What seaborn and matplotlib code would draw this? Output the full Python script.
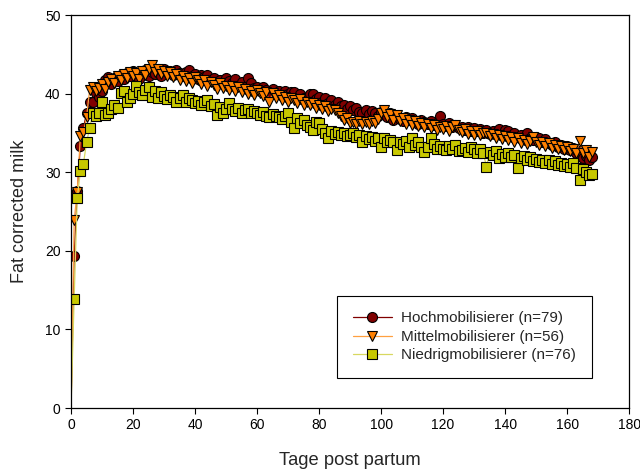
import matplotlib
matplotlib.use("Agg")
import matplotlib.pyplot as plt
import seaborn as sns
import numpy as np

days = list(range(0, 169))

hoch = [0.0,
    19.3, 27.6, 33.4, 35.6, 37.6, 38.9, 38.9, 40.1, 39.6, 40.3,
    41.8, 42.1, 41.2, 42.0, 41.6, 42.4, 41.9, 42.6, 42.2, 42.9,
    42.4, 41.9, 42.7, 43.0, 42.3, 42.8, 42.5, 43.1, 42.2, 43.2,
    42.7, 42.9, 42.4, 43.0, 42.6, 42.2, 42.8, 43.0, 42.3, 42.5,
    41.9, 42.4, 42.1, 42.4, 41.6, 42.0, 41.4, 41.8, 41.2, 42.0,
    41.6, 41.3, 41.9, 41.0, 41.5, 40.8, 42.0, 41.3, 40.7, 40.9,
    40.4, 40.8, 40.5, 40.1, 40.6, 40.0, 40.4, 39.8, 40.3, 39.9,
    40.2, 40.2, 39.5, 39.9, 39.4, 39.6, 39.9, 40.0, 39.3, 39.6,
    39.0, 39.4, 38.8, 39.2, 38.6, 38.9, 38.4, 38.5, 38.1, 38.4,
    37.9, 38.2, 37.7, 37.6, 37.9, 37.4, 37.8, 37.5, 37.2, 37.7,
    37.4, 37.0, 37.5, 36.6, 37.1, 36.8, 36.5, 37.0, 36.6, 36.9,
    36.4, 36.2, 36.6, 36.4, 36.1, 36.5, 36.0, 36.3, 37.1, 36.2,
    35.9, 36.3, 35.7, 36.0, 35.6, 35.8, 35.4, 35.7, 35.3, 35.6,
    35.2, 35.5, 35.0, 35.4, 34.9, 35.3, 35.0, 35.5, 34.7, 35.4,
    35.2, 34.6, 35.0, 34.5, 34.8, 34.3, 35.0, 34.4, 34.1, 34.5,
    34.3, 33.9, 34.2, 33.7, 33.5, 33.9, 33.2, 33.5, 33.0, 33.3,
    32.8, 33.1, 32.5, 32.7, 31.8, 32.1, 31.6, 31.9]

mittel = [0.0,
    23.9, 27.5, 34.6, 35.1, 37.0, 40.5, 40.9, 40.3, 40.7, 41.2,
    40.6, 41.5, 41.9, 41.3, 42.2, 41.7, 42.5, 42.0, 42.8, 42.3,
    42.6, 41.9, 42.9, 42.4, 43.1, 43.6, 42.7, 43.2, 42.5, 42.9,
    42.3, 42.7, 42.1, 42.5, 41.8, 42.2, 41.6, 42.0, 41.4, 42.1,
    41.7, 41.2, 41.8, 41.0, 41.5, 41.1, 40.6, 41.3, 40.7, 41.0,
    40.5, 41.0, 40.3, 40.8, 40.2, 40.6, 40.0, 40.4, 39.8, 40.5,
    40.1, 39.7, 40.2, 38.9, 40.1, 39.5, 39.8, 39.2, 39.6, 39.0,
    39.4, 39.2, 38.8, 39.3, 38.6, 38.9, 38.5, 38.8, 38.2, 38.6,
    38.0, 38.4, 37.8, 38.1, 37.9, 37.5, 37.2, 36.6, 36.9, 36.3,
    36.4, 36.2, 36.5, 36.2, 36.4, 36.2, 36.5, 36.3, 36.8, 37.6,
    37.9, 37.0, 37.4, 36.7, 37.3, 36.5, 36.9, 36.2, 36.6, 36.0,
    36.5, 35.9, 36.3, 35.7, 36.1, 35.6, 36.0, 35.4, 35.8, 35.5,
    35.9, 35.3, 35.7, 36.0, 35.4, 35.1, 35.5, 34.9, 35.3, 34.8,
    35.2, 34.7, 35.0, 35.0, 34.6, 34.9, 34.4, 34.8, 34.2, 34.6,
    34.1, 34.5, 33.9, 34.3, 33.7, 34.1, 33.6, 34.0, 34.5, 33.8,
    33.5, 33.9, 33.3, 33.7, 33.1, 33.5, 33.0, 33.4, 32.8, 33.2,
    32.7, 33.0, 32.5, 34.0, 32.4, 32.8, 32.0, 32.6]

niedrig = [0.0,
    13.9, 26.7, 30.1, 31.1, 33.8, 35.6, 37.6, 37.2, 37.5, 38.9,
    37.3, 37.5, 38.0, 38.5, 38.2, 40.1, 40.4, 39.0, 39.4, 40.0,
    41.0, 40.2, 39.8, 40.5, 40.8, 39.6, 40.3, 39.5, 40.2, 39.7,
    39.3, 39.8, 39.6, 39.0, 39.4, 39.8, 38.9, 39.5, 39.2, 38.8,
    39.1, 38.6, 38.9, 39.2, 38.4, 38.7, 37.3, 38.3, 37.6, 38.0,
    38.8, 38.1, 37.8, 38.2, 37.6, 37.9, 38.1, 37.5, 37.8, 37.6,
    37.3, 37.7, 37.2, 37.0, 37.4, 37.1, 37.0, 36.8, 37.2, 37.5,
    36.4, 35.6, 36.9, 36.3, 36.6, 36.0, 35.8, 35.4, 36.4, 36.3,
    35.5, 35.0, 34.4, 35.2, 34.9, 35.1, 34.7, 35.0, 34.6, 34.8,
    35.0, 34.5, 34.8, 33.8, 34.6, 34.2, 34.5, 34.0, 34.4, 33.2,
    34.3, 33.8, 34.1, 33.8, 32.8, 33.9, 33.6, 34.0, 33.2, 34.4,
    33.5, 33.8, 33.2, 32.6, 33.2, 34.4, 33.6, 33.0, 33.4, 32.9,
    32.8, 33.3, 33.0, 33.5, 32.7, 32.8, 33.1, 32.6, 33.2, 32.9,
    32.5, 32.9, 32.4, 30.7, 32.6, 32.2, 32.7, 31.8, 32.3, 32.0,
    32.4, 31.9, 32.2, 30.5, 31.8, 32.1, 31.6, 31.9, 31.4, 31.7,
    31.3, 31.6, 31.2, 31.5, 31.0, 31.4, 30.9, 31.2, 30.8, 31.1,
    30.7, 31.2, 30.5, 29.0, 30.4, 30.0, 29.6, 29.8]

labels = ["Hochmobilisierer (n=79)", "Mittelmobilisierer (n=56)", "Niedrigmobilisierer (n=76)"]
x_ticks = [0, 20, 40, 60, 80, 100, 120, 140, 160, 180]
y_ticks = [0, 10, 20, 30, 40, 50]

sns.set_style("ticks")
plt.rcParams['font.family'] = ['Liberation Sans', 'DejaVu Sans']

fig, ax = plt.subplots(figsize=(6.4, 4.73), dpi=100)
fig.subplots_adjust(left=0.111, right=0.983, top=0.968, bottom=0.1374)

styles = [
    dict(line="#800000", face="#800000", marker="o", ms=7.2),
    dict(line="#FFA040", face="#FF8000", marker="v", ms=7.6),
    dict(line="#D8D860", face="#C8C800", marker="s", ms=6.6),
]
series = [hoch, mittel, niedrig]
for vals, lab, st in zip(series, labels, styles):
    sns.lineplot(x=days, y=vals, ax=ax, color=st["line"], linewidth=0.9,
                 marker=st["marker"], markersize=st["ms"],
                 markerfacecolor=st["face"], markeredgecolor="black",
                 markeredgewidth=0.8, markevery=list(range(1, len(days))),
                 label=lab, clip_on=True)

ax.set_xlim(0, 180)
ax.set_ylim(0, 50)
ax.set_xticks(x_ticks)
ax.set_yticks(y_ticks)
ax.tick_params(axis='both', labelsize=10, direction='out', length=4, width=0.8,
               colors='black')
ax.set_xlabel("Tage post partum", fontsize=13.2, labelpad=14)
ax.set_ylabel("Fat corrected milk", fontsize=13, labelpad=12)
for s in ax.spines.values():
    s.set_visible(True)
    s.set_color("black")
    s.set_linewidth(0.9)

leg = ax.legend(loc="upper left", bbox_to_anchor=(0.477, 0.285), fontsize=11,
                frameon=True, fancybox=False, edgecolor="black", framealpha=1,
                handlelength=2.6, handletextpad=0.6, borderpad=1.0,
                labelspacing=0.3, borderaxespad=0)
leg.get_frame().set_linewidth(0.8)

fig.savefig("out.png", dpi=100)
